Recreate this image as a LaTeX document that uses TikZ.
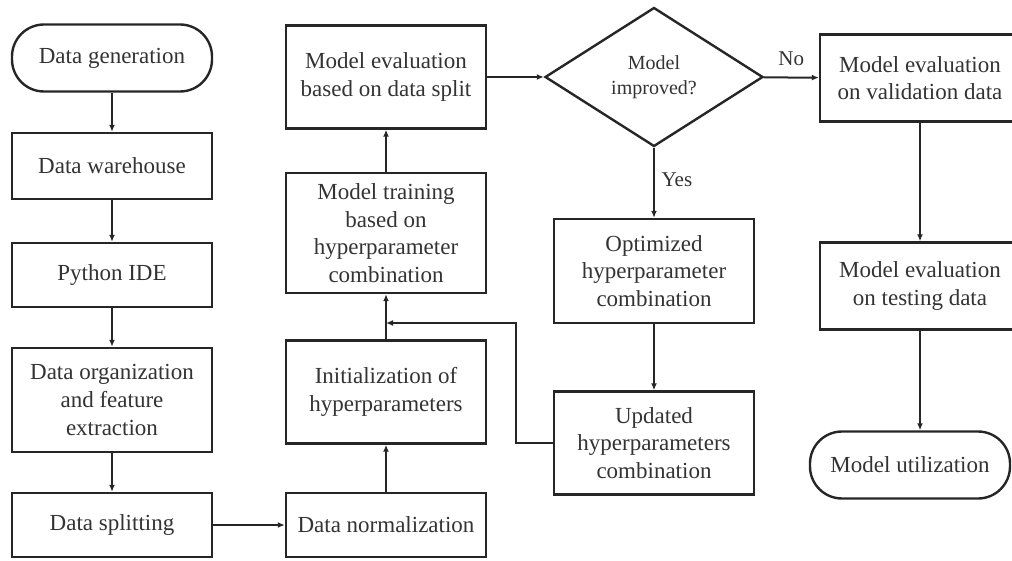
\documentclass[tikz,border=0pt]{standalone}
\usepackage{fontspec}
\setmainfont{Liberation Serif}
\usetikzlibrary{positioning,shapes.geometric,arrows.meta}

\begin{document}
\begin{tikzpicture}[x=0.5pt,y=-0.5pt,
    box/.style={draw=black!85,line width=1.2pt,align=center,inner sep=0pt,minimum width=100pt,text=black!80,font=\fontsize{11.5}{13.8}\selectfont},
    term/.style={box,rounded corners=16pt},
    dec/.style={diamond,draw=black!85,line width=1.2pt,align=center,inner sep=0pt,minimum width=109pt,minimum height=69.5pt,text=black!80,font=\fontsize{10}{12.5}\selectfont},
    arr/.style={line width=1pt,black!85,-{Latex[length=3.5pt,width=3pt]}},
    lbl/.style={text=black!80,font=\fontsize{10.5}{12}\selectfont}]
        \clip (0,0) rectangle (1012,561);
        \node[term,minimum height=33.5pt] (a) at (112,58) {Data generation};
        \node[box,minimum height=33pt] (b) at (112,166) {Data warehouse};
        \node[box,minimum height=32pt] (c) at (112,275) {Python IDE};
        \node[box,minimum height=52pt] (d) at (112,400) {Data organization\\and feature\\extraction};
        \node[box,minimum height=32pt] (e) at (112,525) {Data splitting};
        \node[box,minimum height=32pt] (f) at (386,525) {Data normalization};
        \node[box,minimum height=51.5pt] (g) at (386,392) {Initialization of\\hyperparameters};
        \node[box,minimum height=60pt] (h) at (386,233) {Model training\\based on\\hyperparameter\\combination};
        \node[box,minimum height=51.5pt] (i) at (386,77) {Model evaluation\\based on data split};
        \node[dec] (j) at (654,77) {Model\\improved?};
        \node[box,minimum height=52pt] (k) at (654,271) {Optimized\\hyperparameter\\combination};
        \node[box,minimum height=51.5pt] (l) at (654,443) {Updated\\hyperparameters\\combination};
        \node[box,minimum height=43.5pt] (m) at (920,78) {Model evaluation\\on validation data};
        \node[box,minimum height=43.5pt] (n) at (920,286) {Model evaluation\\on testing data};
        \node[term,minimum height=33.5pt] (o) at (910,465) {Model utilization};
        \coordinate (p) at (386,323);
        \draw[arr] (a)--(b);
        \draw[arr] (b)--(c);
        \draw[arr] (c)--(d);
        \draw[arr] (d)--(e);
        \draw[arr] (e)--(f);
        \draw[arr] (f)--(g);
        \draw[arr] (g)--(h);
        \draw[arr] (h)--(i);
        \draw[arr] (i)--(j);
        \draw[arr] (j)--node[lbl,above=2pt]{No}(m);
        \draw[arr] (j)--node[lbl,right,pos=0.45]{Yes}(k);
        \draw[arr] (k)--(l);
        \draw[arr] (l.west)--++(-37,0)|-(p);
        \draw[arr] (m)--(n);
        \draw[arr] (n)--(n.south|-o.north);
      \end{tikzpicture}
\end{document}
